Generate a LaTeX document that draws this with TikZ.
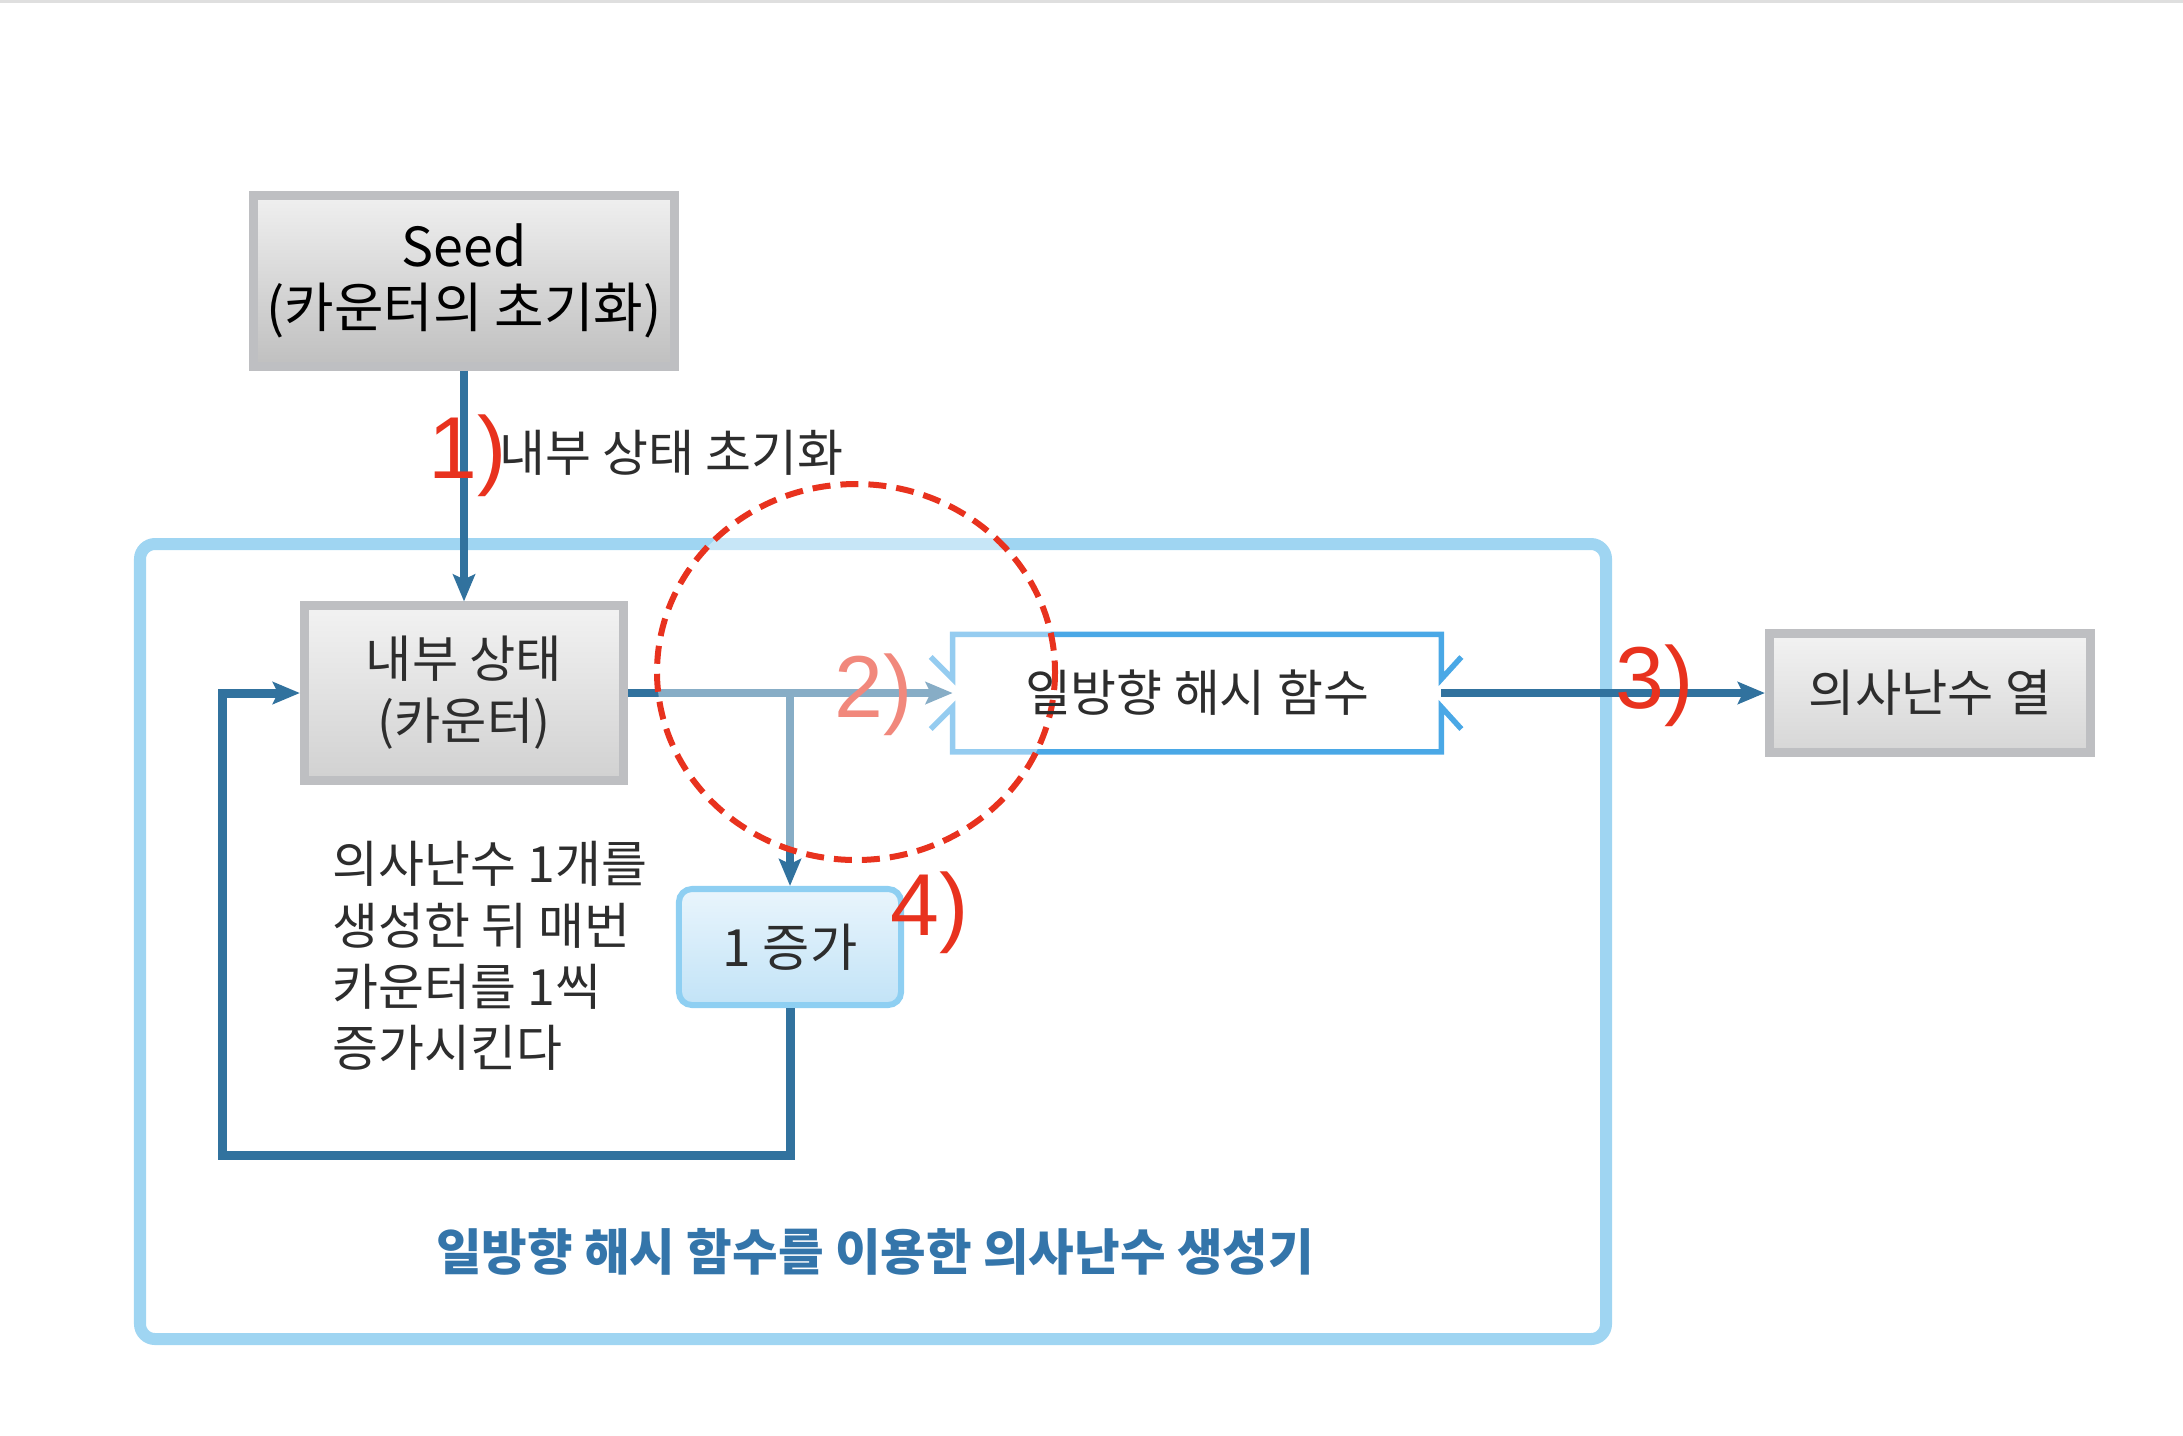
\documentclass[tikz,border=0pt]{standalone}
\usepackage{fontspec}
\setmainfont{Noto Sans CJK KR}
\newfontfamily\stepfont{Liberation Sans}
\usetikzlibrary{arrows.meta}
\definecolor{flowblue}{RGB}{49,114,158}
\definecolor{framesky}{RGB}{159,213,242}
\definecolor{hashblue}{RGB}{74,168,230}
\definecolor{incsky}{RGB}{142,207,242}
\definecolor{inctop}{RGB}{233,245,252}
\definecolor{incbottom}{RGB}{194,227,247}
\definecolor{boxgray}{RGB}{190,191,194}
\definecolor{markred}{RGB}{232,50,30}
\definecolor{capblue}{RGB}{52,117,170}
\definecolor{textgray}{RGB}{45,45,45}

\begin{document}
\begin{tikzpicture}[x=0.01cm, y=-0.01cm,
>={Stealth[length=0.27cm, width=0.22cm, inset=0.05cm]},
block/.style = {rectangle, draw=boxgray, line width=0.09cm, align=center, text=textgray,
  top color=gray!10, bottom color=gray!36, font=\fontsize{14.3}{17.6}\selectfont},
incblock/.style = {rectangle, rounded corners=0.13cm, draw=incsky, line width=0.06cm,
  top color=inctop, bottom color=incbottom, text=textgray, font=\fontsize{14.6}{17.6}\selectfont},
hashline/.style = {draw=hashblue, line width=0.055cm},
flow/.style = {draw=flowblue, line width=0.08cm},
steplabel/.style = {text=markred, inner sep=0, anchor=base west, font=\stepfont\fontsize{25}{28}\selectfont},
plaintext/.style = {text=textgray, inner sep=0, font=\fontsize{14.2}{17.4}\selectfont}]
\useasboundingbox (0,0) rectangle (2183,1435);
\draw[gray!25, line width=0.03cm] (0,1) -- (2183,1);
% generator frame
\draw[framesky, line width=0.12cm, rounded corners=0.15cm] (140,544) rectangle (1606,1339);
\node[block, minimum width=4.2cm, minimum height=1.7cm, text=black, top color=gray!12,
  middle color=gray!46, bottom color=gray!50, font=\fontsize{15.3}{17.2}\selectfont] at (464,281) (seed) {Seed\\(카운터의 초기화)};
\node[block, minimum width=3.19cm, minimum height=1.74cm] at (464,693) (state) {내부 상태\\(카운터)};
\node[block, minimum width=3.21cm, minimum height=1.18cm, bottom color=gray!32] at (1930,693) (prng) {의사난수 열};
\node[incblock, minimum width=2.22cm, minimum height=1.16cm] at (790,947) (inc) {1 증가};
\node[minimum width=4.87cm, minimum height=1.16cm] at (1197,693) (hash) {};
% hash box with open sides
\draw[hashline] ([yshift=0.14cm]hash.west) ++(-22,-22) -- ([yshift=0.14cm]hash.west) -- (hash.north west)
  -- (hash.north east) -- ([yshift=0.14cm]hash.east) -- ++(20,-22);
\draw[hashline] ([yshift=-0.14cm]hash.west) ++(-22,22) -- ([yshift=-0.14cm]hash.west) -- (hash.south west)
  -- (hash.south east) -- ([yshift=-0.14cm]hash.east) -- ++(20,22);
\coordinate (split) at (inc.north |- state.east);
\coordinate (loopcorner) at (222,1155);
\draw [->] [flow] (seed) -- (state);
\draw [->] [flow] (state) -- (hash.west);
\draw [->] [flow] (split) -- (inc);
\draw [->] [flow] (hash) -- (prng);
\draw [->] [flow, line width=0.09cm] (inc) |- (loopcorner) |- (state);
\node[steplabel] at (834,717) (s2) {2)};
% highlight of step 2
\fill[white, fill opacity=0.42] (856,672) ellipse [x radius=199, y radius=188];
\draw[markred, line width=0.06cm, dash pattern=on 0.18cm off 0.1cm] (856,672) ellipse [x radius=199, y radius=188];
\node[plaintext] at (hash) (hashtext) {일방향 해시 함수};
\node[steplabel] at (428,478) (s1) {1)};
\node[steplabel] at (1615,708) (s3) {3)};
\node[steplabel] at (890,935) (s4) {4)};
\node[plaintext, anchor=west] at (499,453) (initlbl) {내부 상태 초기화};
\node[plaintext, anchor=west, align=left] at (332,956) (note) {의사난수 1개를\\생성한 뒤 매번\\카운터를 1씩\\증가시킨다};
\node[text=capblue, font=\bfseries\fontsize{14.1}{16}\selectfont] at (875,1252) (caption) {일방향 해시 함수를 이용한 의사난수 생성기};
\end{tikzpicture}
\end{document}
